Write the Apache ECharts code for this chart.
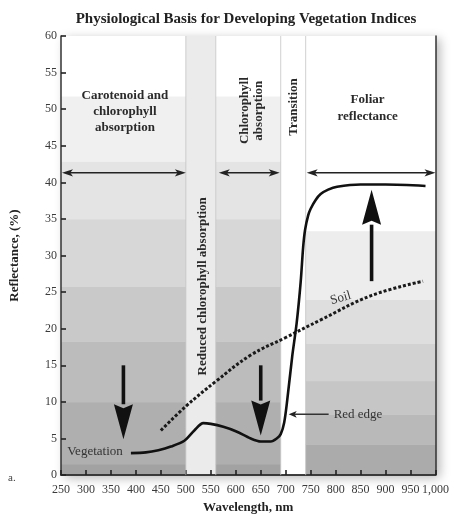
<!DOCTYPE html>
<html><head><meta charset="utf-8">
<script src="https://cdn.jsdelivr.net/npm/echarts@6/dist/echarts.min.js"></script>
<style>html,body{margin:0;padding:0;background:#fff}#c{width:452px;height:519px}</style>
</head><body><div id="c"></div>
<script>
const SERIF = '"Liberation Serif","DejaVu Serif",serif';

// Vegetation reflectance curve (wavelength nm, reflectance %)
const vegWl  = [390, 420, 445, 470, 497, 517, 535, 550, 575, 600, 630, 650, 670, 682, 690, 697, 703, 713, 722, 730, 735, 739, 745, 750, 760, 770, 785, 803, 850, 900, 980];
const vegVal = [3.0, 3.1, 3.4, 3.9, 4.7, 6.1, 7.1, 7.0, 6.6, 6.0, 5.0, 4.6, 4.6, 5.0, 5.6, 7.2, 10.2, 16.2, 20.8, 26.4, 31.2, 33.6, 35.5, 36.4, 37.6, 38.4, 39.0, 39.4, 39.7, 39.7, 39.5];
// Soil reflectance line
const soilWl  = [450, 500, 560, 630, 700, 770, 870, 975];
const soilVal = [6.1, 9.4, 12.8, 16.4, 18.8, 21.2, 24.5, 26.5];

// Spectral zones (nm)
const zoneEdges = [250, 500, 560, 690, 740, 1000];
// Horizontal shading bands (reflectance %) for absorption zones and foliar zone
const absorbBandEdges = [0, 1.5, 10, 18.3, 25.8, 35, 42.9, 51.8, 60];
const foliarBandEdges = [0, 4.2, 8.3, 12.9, 18, 24, 33.4, 60];

// Big arrows: wavelength, from, to
const bigArrowX    = [375, 650, 872];
const bigArrowFrom = [15, 15, 26.5];
const bigArrowTo   = [4.9, 5.4, 39];
// Double-headed span arrows
const spanStart = [252, 566, 742];
const spanEnd   = [500, 688, 1000];
const spanLevel = 41.3;
// Red edge pointer
const redEdgeFrom = [786, 8.3];
const redEdgeTo   = [706, 8.3];

// Text labels
const labelTexts = ['Carotenoid and\nchlorophyll\nabsorption', 'Chlorophyll\nabsorption', 'Transition', 'Foliar\nreflectance', 'Reduced chlorophyll absorption', 'Soil', 'Vegetation', 'Red edge'];
const labelX = [378, 632, 716, 864, 534, 810, 318, 796];
const labelY = [49.6, 49.8, 50.3, 50.1, 25.8, 24.2, 3.25, 8.3];

// styles (not data)
const absorbColors = ['#a2a2a2','#afafaf','#bcbcbc','#c9c9c9','#d7d7d7','#e4e4e4','#f0f0f0','#ffffff'];
const foliarColors = ['#ababab','#b9b9b9','#c6c6c6','#d2d2d2','#dedede','#ededed','#ffffff'];
const labelStyles = [
  {fontWeight:'bold', fontSize:13, lineHeight:16, rot:0, align:'center'},
  {fontWeight:'bold', fontSize:13, lineHeight:14, rot:90, align:'center'},
  {fontWeight:'bold', fontSize:13, lineHeight:14, rot:90, align:'center'},
  {fontWeight:'bold', fontSize:13, lineHeight:17, rot:0, align:'center'},
  {fontWeight:'bold', fontSize:13, lineHeight:14, rot:90, align:'center'},
  {fontWeight:'normal', fontSize:13, lineHeight:14, rot:16, align:'center'},
  {fontWeight:'normal', fontSize:13, lineHeight:14, rot:0, align:'center'},
  {fontWeight:'normal', fontSize:13, lineHeight:14, rot:0, align:'left'}
];

const bandData = [];
function addBands(x0, x1, edges, colors) {
  for (let i = 0; i < edges.length - 1; i++) {
    bandData.push({value: [x0, x1, edges[i], edges[i + 1]], itemStyle: {color: colors[i]}});
  }
}
addBands(zoneEdges[0], zoneEdges[1], absorbBandEdges, absorbColors);
bandData.push({value: [zoneEdges[1], zoneEdges[2], 0, 60], itemStyle: {color: '#ebebeb'}});
addBands(zoneEdges[2], zoneEdges[3], absorbBandEdges, absorbColors);
bandData.push({value: [zoneEdges[3], zoneEdges[4], 0, 60], itemStyle: {color: '#ffffff'}});
addBands(zoneEdges[4], zoneEdges[5], foliarBandEdges, foliarColors);

const chart = echarts.init(document.getElementById('c'), null, {renderer: 'canvas'});

const axisCommon = {
  type: 'value',
  splitLine: {show: false},
  axisLine: {show: true, lineStyle: {color: '#333', width: 1.5}},
  axisTick: {show: true, inside: true, length: 5, lineStyle: {color: '#222', width: 1.6}},
  axisLabel: {fontFamily: SERIF, fontSize: 12, color: '#3a3a3a'}
};

chart.setOption({
  animation: false,
  grid: {left: 60, right: 16, top: 36, bottom: 41, show: true, backgroundColor: '#fff', borderWidth: 0,
         shadowBlur: 10, shadowColor: 'rgba(0,0,0,0.28)', shadowOffsetX: 4, shadowOffsetY: 3},
  graphic: [
    {type: 'text', x: 246, y: 19, style: {text: 'Physiological Basis for Developing Vegetation Indices', font: 'bold 15px ' + SERIF, fill: '#222', align: 'center', verticalAlign: 'middle'}},
    {type: 'text', x: 8, y: 478, style: {text: 'a.', font: '11px ' + SERIF, fill: '#444', align: 'left', verticalAlign: 'middle'}}
  ],
  xAxis: [
    Object.assign({}, axisCommon, {min: 250, max: 1000, interval: 50, position: 'bottom',
      name: 'Wavelength, nm', nameLocation: 'middle', nameGap: 23,
      nameTextStyle: {fontFamily: SERIF, fontWeight: 'bold', fontSize: 13, color: '#222'},
      axisLabel: {fontFamily: SERIF, fontSize: 12, color: '#3a3a3a', margin: 9}}),
    {type: 'value', min: 250, max: 1000, position: 'top', axisLine: {show: true, lineStyle: {color: '#333', width: 1.5}},
      axisTick: {show: false}, axisLabel: {show: false}, splitLine: {show: false}}
  ],
  yAxis: [
    Object.assign({}, axisCommon, {min: 0, max: 60, interval: 5, position: 'left',
      name: 'Reflectance, (%)', nameLocation: 'middle', nameGap: 40, nameRotate: 90,
      nameTextStyle: {fontFamily: SERIF, fontWeight: 'bold', fontSize: 13, color: '#222'},
      axisLabel: {fontFamily: SERIF, fontSize: 12, color: '#3a3a3a', margin: 4}}),
    {type: 'value', min: 0, max: 60, position: 'right', axisLine: {show: true, lineStyle: {color: '#333', width: 1.5}},
      axisTick: {show: false}, axisLabel: {show: false}, splitLine: {show: false}}
  ],
  series: [
    {
      type: 'custom', z: 0, silent: true, clip: true,
      data: bandData,
      encode: {x: [0, 1], y: [2, 3]},
      renderItem: function (params, api) {
        const p0 = api.coord([api.value(0), api.value(3)]);
        const p1 = api.coord([api.value(1), api.value(2)]);
        return {type: 'rect', shape: {x: p0[0], y: p0[1], width: p1[0] - p0[0] + 0.5, height: p1[1] - p0[1] + 0.5},
                style: {fill: api.visual('color')}};
      }
    },
    {
      // thin separator lines at zone edges
      type: 'custom', z: 1, silent: true,
      data: zoneEdges.slice(1, 5).map(function (x) { return [x]; }),
      encode: {x: 0},
      renderItem: function (params, api) {
        const a = api.coord([api.value(0), 60]);
        const b = api.coord([api.value(0), 0]);
        return {type: 'line', shape: {x1: a[0], y1: a[1], x2: b[0], y2: b[1]}, style: {stroke: '#c4c4c4', lineWidth: 0.8}};
      }
    },
    {
      type: 'line', name: 'Soil', z: 3, showSymbol: false, smooth: 0.4, silent: true,
      data: soilWl.map(function (x, i) { return [x, soilVal[i]]; }),
      lineStyle: {color: '#1a1a1a', width: 3, type: [3, 2]}
    },
    {
      type: 'line', name: 'Vegetation', z: 4, showSymbol: false, smooth: 0.3, silent: true,
      data: vegWl.map(function (x, i) { return [x, vegVal[i]]; }),
      lineStyle: {color: '#111', width: 2.6}
    },
    {
      // big arrows
      type: 'custom', z: 5, silent: true,
      data: bigArrowX.map(function (x, i) { return [x, bigArrowFrom[i], bigArrowTo[i]]; }),
      encode: {x: 0, y: [1, 2]},
      renderItem: function (params, api) {
        const s = api.coord([api.value(0), api.value(1)]);
        const t = api.coord([api.value(0), api.value(2)]);
        const dir = t[1] > s[1] ? 1 : -1;
        const headLen = 35, hw = 9.5;
        const by = t[1] - dir * headLen;
        return {type: 'group', children: [
          {type: 'line', shape: {x1: s[0], y1: s[1], x2: s[0], y2: by}, style: {stroke: '#111', lineWidth: 3.6}},
          {type: 'polygon', shape: {points: [[t[0], t[1]], [t[0] - hw, by], [t[0], by + dir * 4], [t[0] + hw, by]]}, style: {fill: '#111'}}
        ]};
      }
    },
    {
      // span arrows and red-edge pointer
      type: 'custom', z: 5, silent: true,
      data: spanStart.map(function (x, i) { return [x, spanEnd[i], spanLevel, 1]; })
            .concat([[redEdgeFrom[0], redEdgeTo[0], redEdgeTo[1], 0]]),
      encode: {x: [0, 1], y: 2},
      renderItem: function (params, api) {
        const a = api.coord([api.value(0), api.value(2)]);
        const b = api.coord([api.value(1), api.value(2)]);
        const both = api.value(3) === 1;
        const L = both ? 11 : 8, hw = both ? 3.6 : 3.4;
        const children = [];
        const dirB = b[0] > a[0] ? 1 : -1;
        children.push({type: 'line', shape: {x1: a[0] + (both ? dirB * L * 0.7 : 0), y1: a[1], x2: b[0] - dirB * L * 0.7, y2: b[1]},
                       style: {stroke: both ? '#222' : '#333', lineWidth: 1.5}});
        children.push({type: 'polygon', shape: {points: [[b[0], b[1]], [b[0] - dirB * L, b[1] - hw], [b[0] - dirB * L * 0.75, b[1]], [b[0] - dirB * L, b[1] + hw]]}, style: {fill: '#222'}});
        if (both) {
          children.push({type: 'polygon', shape: {points: [[a[0], a[1]], [a[0] + dirB * L, a[1] - hw], [a[0] + dirB * L * 0.75, a[1]], [a[0] + dirB * L, a[1] + hw]]}, style: {fill: '#222'}});
        }
        return {type: 'group', children: children};
      }
    },
    {
      // text labels
      type: 'custom', z: 6, silent: true, clip: false,
      data: labelX.map(function (x, i) { return [x, labelY[i], i]; }),
      encode: {x: 0, y: 1},
      renderItem: function (params, api) {
        const p = api.coord([api.value(0), api.value(1)]);
        const i = api.value(2);
        const st = labelStyles[i];
        return {type: 'text', x: p[0], y: p[1], rotation: st.rot * Math.PI / 180,
                style: {text: labelTexts[i], fontFamily: SERIF, fontWeight: st.fontWeight, fontSize: st.fontSize,
                        lineHeight: st.lineHeight, fill: st.fontWeight === 'bold' ? '#2a2a2a' : '#333',
                        align: st.align, verticalAlign: 'middle'}};
      }
    }
  ]
});
</script>
</body></html>
